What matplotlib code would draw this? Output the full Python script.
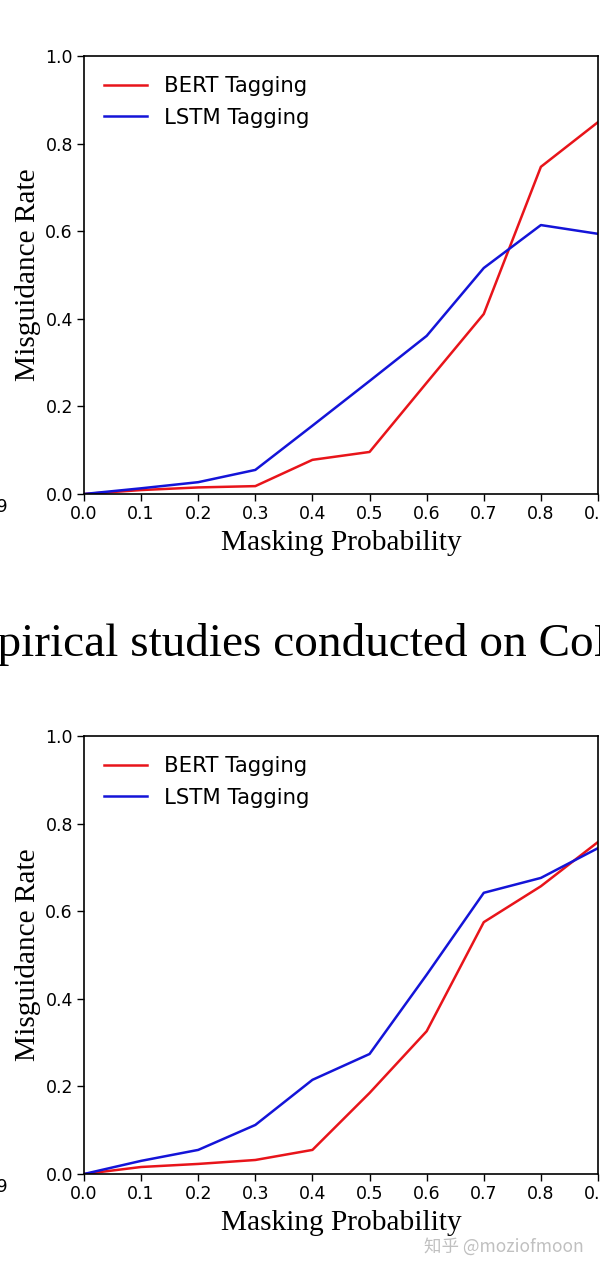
import matplotlib
matplotlib.use("Agg")
import matplotlib.pyplot as plt

x_prob = [0.0, 0.1, 0.2, 0.3, 0.4, 0.5, 0.6, 0.7, 0.8, 0.9]
x_ticks = [0.0, 0.1, 0.2, 0.3, 0.4, 0.5, 0.6, 0.7, 0.8, 0.9]
y_ticks = [0.0, 0.2, 0.4, 0.6, 0.8, 1.0]

bert_top = [0.0, 0.009, 0.015, 0.018, 0.078, 0.096, 0.254, 0.411, 0.747, 0.849]
lstm_top = [0.0, 0.013, 0.027, 0.055, 0.156, 0.258, 0.361, 0.516, 0.614, 0.594]

bert_bot = [0.0, 0.016, 0.023, 0.032, 0.055, 0.185, 0.326, 0.575, 0.657, 0.758]
lstm_bot = [0.0, 0.030, 0.055, 0.112, 0.215, 0.274, 0.455, 0.642, 0.676, 0.744]

series_labels = ["BERT Tagging", "LSTM Tagging"]
caption = "Empirical studies conducted on CoNLL"
watermark = "知乎 @moziofmoon"

W, H = 600, 1271
fig = plt.figure(figsize=(W / 100, H / 100), dpi=100)


def make_axes(top_px, bert, lstm):
    left, right, bottom = 84, 598, top_px + 438
    ax = fig.add_axes([left / W, (H - bottom) / H, (right - left) / W, 438 / H])
    ax.plot(x_prob, bert, color="#e8141a", lw=1.8, label=series_labels[0])
    ax.plot(x_prob, lstm, color="#1414d8", lw=1.8, label=series_labels[1])
    ax.set_xlim(0, 0.9)
    ax.set_ylim(0, 1.0)
    ax.set_xticks(x_ticks)
    ax.set_xticklabels([f"{t:.1f}" for t in x_ticks])
    ax.set_yticks(y_ticks)
    ax.set_yticklabels([f"{t:.1f}" for t in y_ticks])
    ax.tick_params(labelsize=12.5, length=5, width=1, pad=3)
    for sp in ax.spines.values():
        sp.set_linewidth(1.2)
    ax.set_xlabel("Masking Probability", family="Liberation Serif", fontsize=21.2, labelpad=5)
    ax.set_ylabel("Misguidance Rate", family="Liberation Serif", fontsize=21.2, labelpad=3)
    ax.legend(loc="upper left", frameon=False, fontsize=15.3, handlelength=2.0,
              handletextpad=0.8, borderaxespad=0.55, labelspacing=0.55)
    # cut-off tick label of the neighbouring figure at the left edge
    fig.text(9 / W, (H - (top_px + 451)) / H, "0.9", ha="right", va="center", fontsize=12.5)
    return ax


make_axes(56, bert_top, lstm_top)
make_axes(736, bert_bot, lstm_bot)

fig.text(-68 / W, (H - 656) / H, caption, ha="left", va="baseline",
         family="Liberation Serif", fontsize=34)

fig.text(584 / W, (H - 1247) / H, watermark, ha="right", va="center",
         family=["Noto Sans CJK SC", "DejaVu Sans"], fontsize=12.6, color="#c0c0c0")

fig.savefig("out.png", dpi=100)
